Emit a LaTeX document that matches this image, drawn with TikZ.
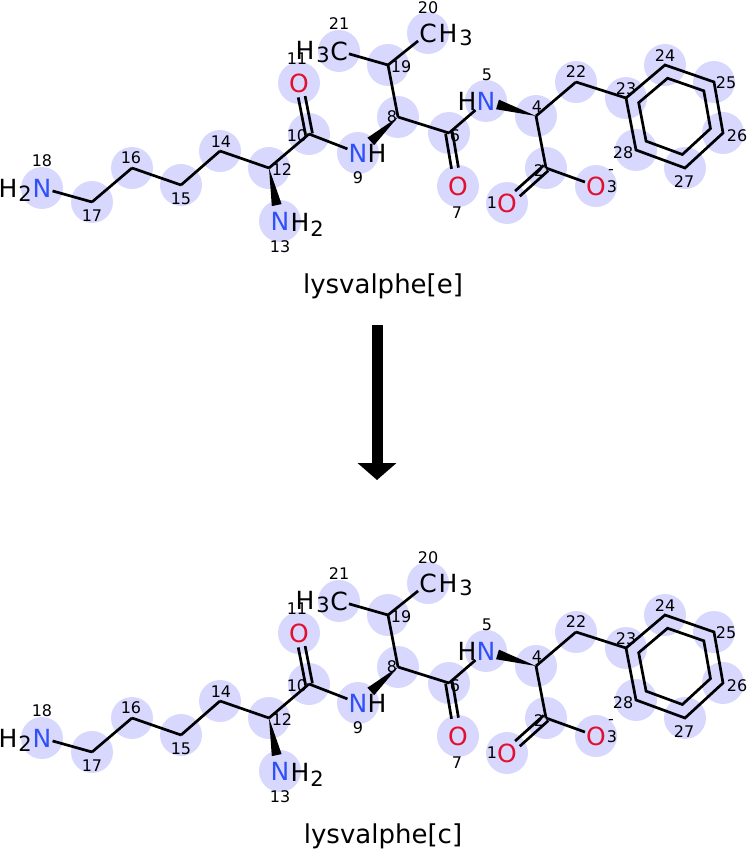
\documentclass[tikz,border=0pt]{standalone}
\usepackage{fontspec}
\setmainfont{DejaVu Sans}
\usepackage{xcolor}
\usetikzlibrary{calc, arrows.meta}
\definecolor{hlcol}{RGB}{216,216,255}
\definecolor{nblue}{RGB}{48,80,248}
\definecolor{ored}{RGB}{224,16,46}

\begin{document}
\begin{tikzpicture}[x=1pt, y=-1pt,
  atom/.style={inner sep=1pt, font=\fontsize{25}{30}\selectfont},
  sub/.style={inner sep=0pt, font=\fontsize{21}{25}\selectfont},
  idx/.style={inner sep=0pt, font=\fontsize{16}{19}\selectfont},
  bond/.style={line width=2.7pt},
  molname/.style={inner sep=0pt, font=\fontsize{26}{31}\selectfont},
  bigarrow/.style={line width=11pt, -{Triangle[width=38pt,length=17pt]}}]
\useasboundingbox (0,0) rectangle (747,851);
\foreach \dy/\nm in {0/e, 550/c} {
\begin{scope}[yshift=-\dy pt, name prefix=\nm-]
\foreach \n/\x/\y in {1/507/203, 2/546/168, 3/596/186, 4/536/116, 5/486/101, 6/449/133, 7/458/186, 8/398/117, 9/358/153, 10/309/134, 11/299/83, 12/269/168, 13/280/221, 14/220/151, 15/181/185, 16/132/168, 17/92/202, 18/42/188, 19/388/65, 20/428/33, 21/339/51, 22/576/82, 23/626/98, 24/665/65, 25/714/82, 26/723/133, 27/685/168, 28/636/150}
  \coordinate (p\n) at (\x,\y);
\foreach \n in {1,...,28} \fill[hlcol] (p\n) circle (21pt);
\foreach \n/\t/\c in {1/O/ored, 3/O/ored, 5/N/nblue, 7/O/ored, 9/N/nblue, 11/O/ored, 13/N/nblue, 18/N/nblue, 20/C/black, 21/C/black}
  \node[atom, text=\c] (a\n) at (p\n) {\t};
\foreach \n in {2,4,6,8,10,12,14,15,16,17,19,22,23,24,25,26,27,28}
  \coordinate (a\n) at (p\n);
\node[atom] (h5) at (467,101) {H};
\node[atom] (h9) at (377,153) {H};
\node[atom] (h13) at (300,222) {H};
\node[sub] (s13) at (317,229) {2};
\node[atom] (h18) at (8,188) {H};
\node[sub] (s18) at (25,194) {2};
\node[atom] (h20) at (448,33) {H};
\node[sub] (s20) at (466,38) {3};
\node[atom] (h21) at (305,50) {H};
\node[sub] (s21) at (323,55) {3};
\foreach \u/\v in {18/17, 17/16, 16/15, 15/14, 14/12, 12/10, 10/9, 8/19, 19/21, 19/20, 8/6, 6/5, 4/22, 22/23, 4/2, 2/3}
  \draw[bond] (a\u) -- (a\v);
\draw[bond] (a23) -- (a24) -- (a25) -- (a26) -- (a27) -- (a28) -- cycle;
\coordinate (ring) at (674.8,116);
\draw[bond] ($(ring)!0.74!(a23)$) -- ($(ring)!0.74!(a24)$) -- ($(ring)!0.74!(a25)$) -- ($(ring)!0.74!(a26)$) -- ($(ring)!0.74!(a27)$) -- ($(ring)!0.74!(a28)$) -- cycle;
\foreach \u/\v/\k in {10/11/14pt, 6/7/18pt, 2/1/14pt}
  \foreach \s in {3.5pt,-3.5pt}
    \draw[bond] ($(a\u)!\s!90:(a\v)$) -- ($(a\v)!\k!(a\u)!\s!-90:(a\u)$);
\foreach \u/\v/\f in {12/13/0.7, 8/9/0.68, 4/5/0.77}
  \fill (a\u) -- ($(a\u)!\f!(a\v)!5pt!90:(a\v)$) -- ($(a\u)!\f!(a\v)!5pt!-90:(a\v)$) -- cycle;
\foreach \n/\x/\y in {1/492/203, 2/539/171, 3/612/187, 4/537/107, 5/487/75, 6/455/136, 7/457/213, 8/392/117, 9/358/178, 10/297/136, 11/297/59, 12/282/170, 13/280/247, 14/221/142, 15/181/199, 16/131/158, 17/92/216, 18/42/161, 19/401/67, 20/428/8, 21/339/24, 22/576/72, 23/626/89, 24/665/56, 25/726/83, 26/737/136, 27/684/182, 28/623/153}
  \node[idx] (i\n) at (\x,\y) {\n};
\node[idx] (q3) at (611,172) {-};
\node[molname] (name) at (383,286) {lysvalphe[\nm]};
\end{scope}
}
\coordinate (arrtop) at (377,325);
\coordinate (arrtip) at (377,480);
\draw[bigarrow] (arrtop) -- (arrtip);
\end{tikzpicture}
\end{document}
